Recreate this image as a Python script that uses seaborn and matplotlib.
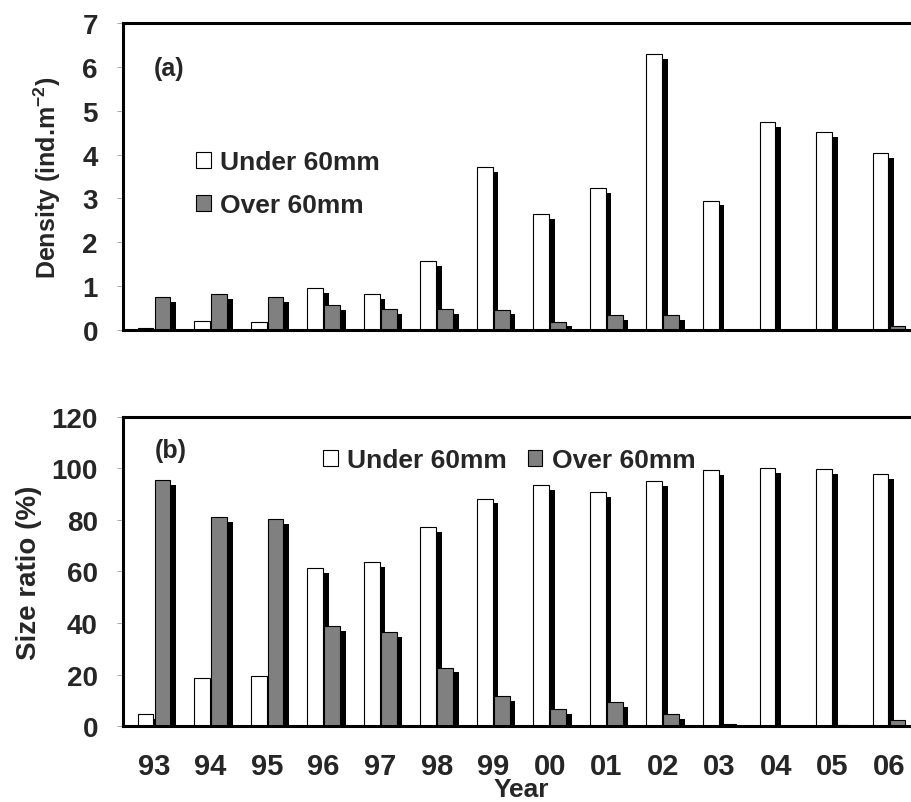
# Density and size ratio of the under/over 60mm size classes, 1993-2006
import numpy as np
import pandas as pd
import matplotlib.pyplot as plt
import seaborn as sns

# data
years = ['93', '94', '95', '96', '97', '98', '99', '00', '01', '02', '03', '04', '05', '06']
sizes = ['Under 60mm', 'Over 60mm']
density_under = [0.04, 0.20, 0.19, 0.95, 0.81, 1.56, 3.71, 2.64, 3.24, 6.30, 2.95, 4.74, 4.51, 4.04]
density_over = [0.74, 0.81, 0.74, 0.57, 0.48, 0.47, 0.46, 0.19, 0.33, 0.33, 0.0, 0.0, 0.0, 0.09]
ratio_under = [4.5, 18.8, 19.5, 61.3, 63.6, 77.3, 88.3, 93.4, 90.8, 95.2, 99.2, 100.0, 99.6, 97.8]
ratio_over = [95.5, 81.2, 80.5, 38.7, 36.4, 22.7, 11.7, 6.6, 9.2, 4.8, 0.8, 0.0, 0.4, 2.2]

sns.set_style('ticks')
plt.rcParams['font.family'] = ['Liberation Sans', 'DejaVu Sans']
plt.rcParams['font.weight'] = 'bold'
plt.rcParams['mathtext.fontset'] = 'custom'
plt.rcParams['mathtext.bf'] = 'Liberation Sans:bold'
plt.rcParams['mathtext.rm'] = 'Liberation Sans:bold'
plt.rcParams['mathtext.default'] = 'bf'

colors = {'Under 60mm': 'white', 'Over 60mm': '#808080'}


def make_df(under, over):
    return pd.DataFrame({
        'year': years * 2,
        'size': [sizes[0]] * len(years) + [sizes[1]] * len(years),
        'value': under + over,
    })


def draw_panel(ax, under, over, drop):
    df = make_df(under, over)
    sns.barplot(data=df, x='year', y='value', hue='size', order=years, hue_order=sizes,
                palette=colors, width=0.6, gap=0.07, saturation=1, errorbar=None,
                edgecolor='black', linewidth=0.8, legend=False, ax=ax)
    bars_under, bars_over = ax.containers[0], ax.containers[1]
    for p in bars_under:
        p.set_zorder(1.2)
    for p in bars_over:
        p.set_zorder(1.6)
    # black drop shadows behind each bar
    x = np.arange(len(years))
    bw = 0.28
    ax.bar(x - 0.15 + 0.1, np.clip(np.array(under) - drop, 0, None), width=bw,
           color='black', linewidth=0, zorder=1.0)
    ax.bar(x + 0.15 + 0.1, np.clip(np.array(over) - drop, 0, None), width=bw,
           color='black', linewidth=0, zorder=1.4)
    ax.set_xlim(-0.55, 13.39)
    for s in ['left', 'top', 'bottom']:
        ax.spines[s].set_linewidth(2.2)
        ax.spines[s].set_color('black')
    ax.spines['right'].set_visible(False)
    ax.tick_params(axis='y', length=4, width=0.6, color='#999999', pad=14, labelsize=20)
    ax.tick_params(axis='x', length=0, pad=19, labelsize=21)
    return bars_under, bars_over


fig = plt.figure(figsize=(9.11, 8.03), dpi=100)
ax1 = fig.add_axes([0.135, 0.588, 0.865, 0.382])
ax2 = fig.add_axes([0.135, 0.0946, 0.865, 0.385])

# (a) density
h_under, h_over = draw_panel(ax1, density_under, density_over, 0.11)
ax1.set_ylim(0, 7)
ax1.set_yticks(range(0, 8))
ax1.set_xticklabels([])
ax1.set_xlabel('')
ax1.set_ylabel('Density (ind.m$^{-2}$)', fontsize=18, fontweight='bold')
ax1.yaxis.set_label_coords(-0.076, 0.5)
ax1.text(0.039, 0.853, '(a)', transform=ax1.transAxes, fontsize=18,
         fontweight='bold', va='center', ha='left')
ax1.legend([h_under, h_over], sizes, loc='upper left', bbox_to_anchor=(0.093, 0.585),
           frameon=False, fontsize=19, handlelength=0.55, handleheight=0.55,
           handletextpad=0.35, labelspacing=0.72, borderpad=0, borderaxespad=0)

# (b) size ratio
h_under, h_over = draw_panel(ax2, ratio_under, ratio_over, 1.9)
ax2.set_ylim(0, 120)
ax2.set_yticks(range(0, 121, 20))
ax2.set_ylabel('Size ratio (%)', fontsize=20, fontweight='bold')
ax2.yaxis.set_label_coords(-0.103, 0.5)
ax2.set_xlabel('Year', fontsize=19, fontweight='bold')
ax2.xaxis.set_label_coords(0.506, -0.166)
ax2.text(0.04, 0.893, '(b)', transform=ax2.transAxes, fontsize=18,
         fontweight='bold', va='center', ha='left')
ax2.legend([h_under, h_over], sizes, loc='upper left', bbox_to_anchor=(0.254, 0.898),
           ncol=2, frameon=False, fontsize=19, handlelength=0.55, handleheight=0.55,
           handletextpad=0.35, columnspacing=0.8, borderpad=0, borderaxespad=0)

for ax in (ax1, ax2):
    for lab in ax.get_xticklabels() + ax.get_yticklabels():
        lab.set_fontweight('bold')

plt.savefig('out.png', dpi=100)
